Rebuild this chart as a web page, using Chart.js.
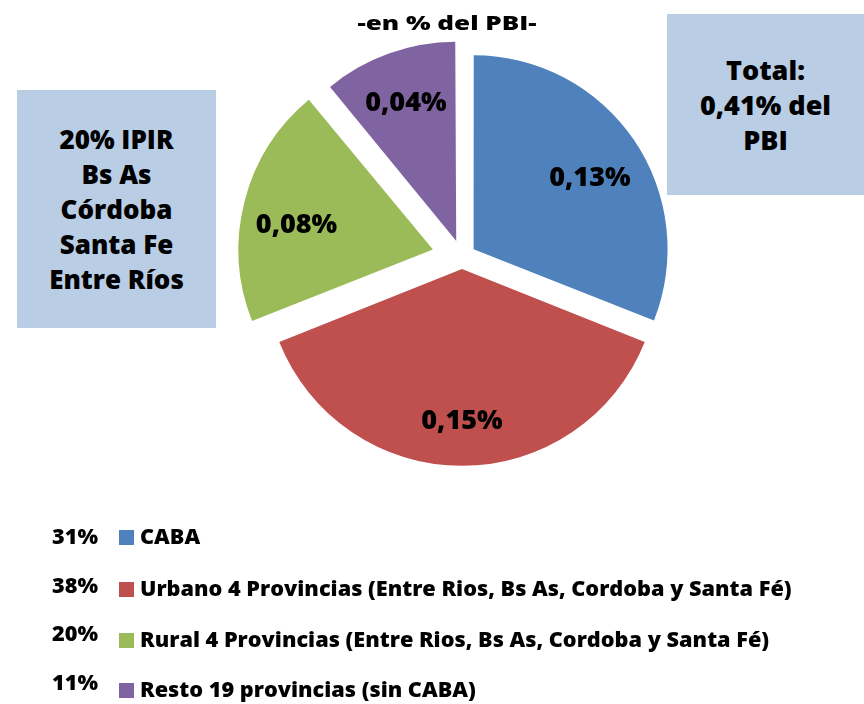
<!DOCTYPE html>
<html>
<head>
<meta charset="utf-8">
<script src="https://cdn.jsdelivr.net/npm/chart.js@4/dist/chart.umd.min.js"></script>
<style>
  html, body { margin: 0; padding: 0; background: #fff; }
  body { width: 864px; height: 704px; position: relative; overflow: hidden; font-family: "Open Sans", Lato, sans-serif; font-weight: 800; color: #000; }
  #c { position: absolute; left: 0; top: 0; }
  .box { position: absolute; background: #b9cde5; display: flex; flex-direction: column; justify-content: center; align-items: center; text-align: center; line-height: 35px; }
  #title { position: absolute; left: 347px; width: 200px; top: 9px; text-align: center; font-size: 20px; line-height: 28px; transform: scaleX(1.3); transform-origin: 100px 0; white-space: nowrap; }
  .lg { position: absolute; font-size: 21.7px; line-height: 28px; white-space: nowrap; }
  .sw { position: absolute; width: 15px; height: 15px; }
</style>
</head>
<body>
<canvas id="c" width="864" height="704"></canvas>
<div id="title"></div>
<div class="box" id="boxR" style="left:667px; top:14px; width:197px; height:181px; font-size:27px;"></div>
<div class="box" id="boxL" style="left:17px; top:90px; width:199px; height:238px; font-size:26px;"></div>
<div id="legend"></div>
<script>
// ---- data ----
const categories = ['CABA', 'Urbano 4 Provincias (Entre Rios, Bs As, Cordoba y Santa Fé)', 'Rural 4 Provincias (Entre Rios, Bs As, Cordoba y Santa Fé)', 'Resto 19 provincias (sin CABA)'];
const shares = [31, 38, 20, 11];               // % of total
const pbiLabels = ['0,13%', '0,15%', '0,08%', '0,04%'];   // % del PBI
const shareLabels = ['31%', '38%', '20%', '11%'];
const colors = ['#4f81bd', '#c0504d', '#9bbb59', '#8064a2'];
const titleText = '-en % del PBI-';
const totalLines = ['Total:', '0,41% del', 'PBI'];
const noteLines = ['20% IPIR', 'Bs As', 'Córdoba', 'Santa Fe', 'Entre Ríos'];

document.getElementById('title').textContent = titleText;
document.getElementById('boxR').innerHTML = totalLines.map(t => '<div>' + t + '</div>').join('');
document.getElementById('boxL').innerHTML = noteLines.map(t => '<div>' + t + '</div>').join('');

const lg = document.getElementById('legend');
const rowTops = [522, 574, 625, 675];
const pctTops = [522, 571, 619, 668];
categories.forEach((c, i) => {
  lg.insertAdjacentHTML('beforeend',
    '<div class="lg" style="left:52px; top:' + pctTops[i] + 'px">' + shareLabels[i] + '</div>' +
    '<div class="sw" style="left:119px; top:' + (rowTops[i] + 8) + 'px; background:' + colors[i] + '"></div>' +
    '<div class="lg" style="left:140px; top:' + rowTops[i] + 'px">' + c + '</div>');
});

const labelRadius = [0.71, 0.78, 0.72, 0.77];
const labelTurn = [0.04, 0, -0.06, 0];   // small angular nudge (radians) of label placement
const sliceLabels = {
  id: 'sliceLabels',
  afterDatasetsDraw(chart) {
    const ctx = chart.ctx;
    const meta = chart.getDatasetMeta(0);
    const fs = 27;
    ctx.save();
    ctx.font = '800 ' + fs + 'px "Open Sans", Lato, sans-serif';
    ctx.fillStyle = '#000';
    ctx.textAlign = 'center';
    ctx.textBaseline = 'alphabetic';
    meta.data.forEach((arc, i) => {
      const p = arc.getProps(['x', 'y', 'startAngle', 'endAngle', 'outerRadius']);
      const mid = (p.startAngle + p.endAngle) / 2;
      const off = (arc.options.offset || 0) / 4;
      const r = off + labelRadius[i] * p.outerRadius;
      const a = mid + labelTurn[i];
      ctx.fillText(pbiLabels[i], p.x + Math.cos(mid) * off + Math.cos(a) * (r - off), p.y + Math.sin(mid) * off + Math.sin(a) * (r - off) + 0.36 * fs);
    });
    ctx.restore();
  }
};

new Chart(document.getElementById('c'), {
  type: 'pie',
  data: {
    labels: categories,
    datasets: [{
      data: shares,
      backgroundColor: colors,
      borderWidth: 0,
      hoverOffset: 0,
      offset: [56, 48, 120, 68]
    }]
  },
  options: {
    responsive: false,
    animation: false,
    layout: { padding: { left: 209, right: 149, top: 4, bottom: 194 } },
    plugins: { legend: { display: false }, tooltip: { enabled: false } }
  },
  plugins: [sliceLabels]
});
</script>
</body>
</html>
